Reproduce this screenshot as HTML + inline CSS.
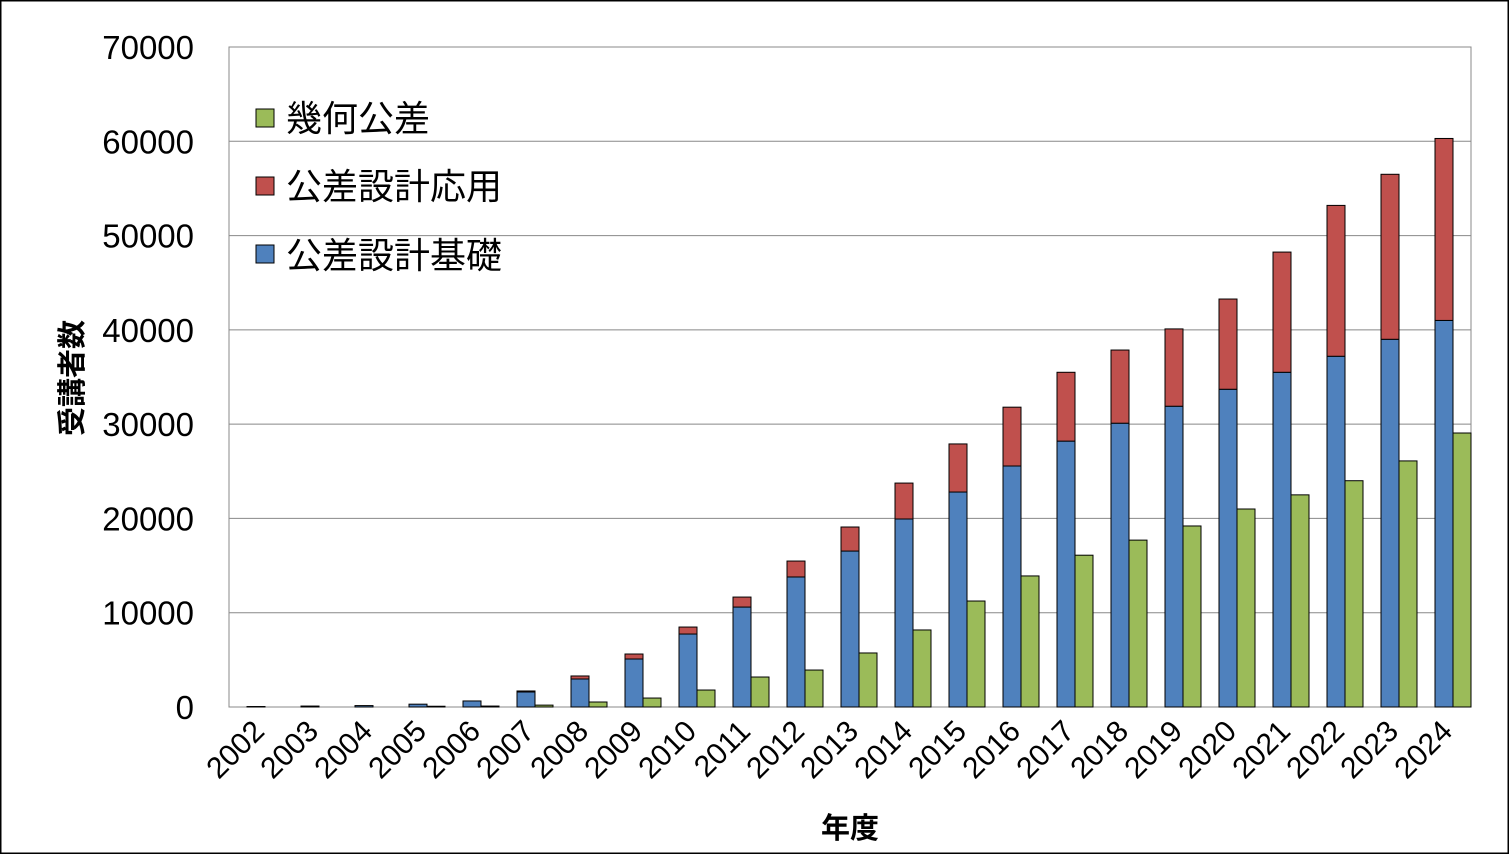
<!DOCTYPE html>
<html><head><meta charset="utf-8"><style>
html,body{margin:0;padding:0;background:#fff}
svg{display:block;font-family:"Liberation Sans","Noto Sans CJK JP",sans-serif}
</style></head><body>
<svg id="chart" width="1509" height="854" viewBox="0 0 1509 854">
<rect x="0.5" y="0.5" width="1508" height="853" fill="#fff" stroke="#000" stroke-width="2"/>
<g id="grid"></g>
<rect x="229" y="47" width="1242" height="660" fill="none" stroke="#888" stroke-width="1"/>
<g id="bars"></g>
<g id="yticks"></g>
<g id="xticks"></g>
<text x="82" y="378" transform="rotate(-90 82 378)" text-anchor="middle" font-size="29" font-weight="bold">受講者数</text>
<text x="850" y="838" text-anchor="middle" font-size="29" font-weight="bold">年度</text>
<g>
<g><rect x="256" y="109" width="18" height="18" fill="#9bbb59" stroke="#000"/><text x="286" y="131" font-size="36">幾何公差</text></g>
<g><rect x="256" y="177" width="18" height="18" fill="#c0504d" stroke="#000"/><text x="286" y="199" font-size="36">公差設計応用</text></g>
<g><rect x="256" y="245" width="18" height="18" fill="#4f81bd" stroke="#000"/><text x="286" y="268" font-size="36">公差設計基礎</text></g>
</g>
</svg>
<script>
const years=["2002","2003","2004","2005","2006","2007","2008","2009","2010","2011","2012","2013","2014","2015","2016","2017","2018","2019","2020","2021","2022","2023","2024"];
const basic=[50,100,150,300,640,1590,2970,5090,7740,10600,13790,16540,19940,22800,25560,28200,30100,31900,33700,35500,37200,39000,41000];
const applied=[0,0,0,0,0,110,320,530,740,1060,1690,2550,3810,5100,6240,7300,7760,8200,9570,12750,16000,17500,19300];
const geometric=[0,0,0,80,100,200,530,950,1800,3180,3920,5730,8170,11240,13900,16100,17700,19200,21000,22500,24000,26100,29060];
const yTicks=[0,10000,20000,30000,40000,50000,60000,70000];
const NS="http://www.w3.org/2000/svg";
const X0=229,X1=1471,Y0=707,Y1=47,YMAX=70000;
const band=(X1-X0)/years.length;
const y=v=>Y0-(v/YMAX)*(Y0-Y1);
const xb=i=>X0+i*band;
function mk(tag,attrs,parent){const e=document.createElementNS(NS,tag);for(const k in attrs)e.setAttribute(k,attrs[k]);parent.appendChild(e);return e;}
const grid=document.getElementById('grid'),bars=document.getElementById('bars'),yt=document.getElementById('yticks'),xt=document.getElementById('xticks');
yTicks.forEach(t=>{
  const l=mk('line',{x1:X0,x2:X1,y1:y(t),y2:y(t),stroke:'#888','stroke-width':1},grid);
  
  
  const tx=mk('text',{x:194,y:y(t)+12,'text-anchor':'end','font-size':33},yt);
  tx.textContent=t;
  
  
});
const bw=band/3;
years.forEach((yr,i)=>{
  const bx=xb(i)+bw;
  const b=mk('rect',{x:bx,y:y(basic[i]),width:bw,height:Y0-y(basic[i]),fill:'#4f81bd',stroke:'#000','stroke-width':1},bars);
  
  
  if(applied[i]>0){
    const top=basic[i]+applied[i];
    const a=mk('rect',{x:bx,y:y(top),width:bw,height:y(basic[i])-y(top),fill:'#c0504d',stroke:'#000','stroke-width':1},bars);
    
    
  }
  if(geometric[i]>0){
    const g=mk('rect',{x:bx+bw,y:y(geometric[i]),width:bw,height:Y0-y(geometric[i]),fill:'#9bbb59',stroke:'#000','stroke-width':1},bars);
    
    
  }
  const cx=xb(i)+band/2+10;
  const tx=mk('text',{x:cx,y:733,'text-anchor':'end','font-size':30,transform:`rotate(-45 ${cx} 733)`},xt);
  tx.textContent=yr;
  
  
});
</script>
</body></html>
